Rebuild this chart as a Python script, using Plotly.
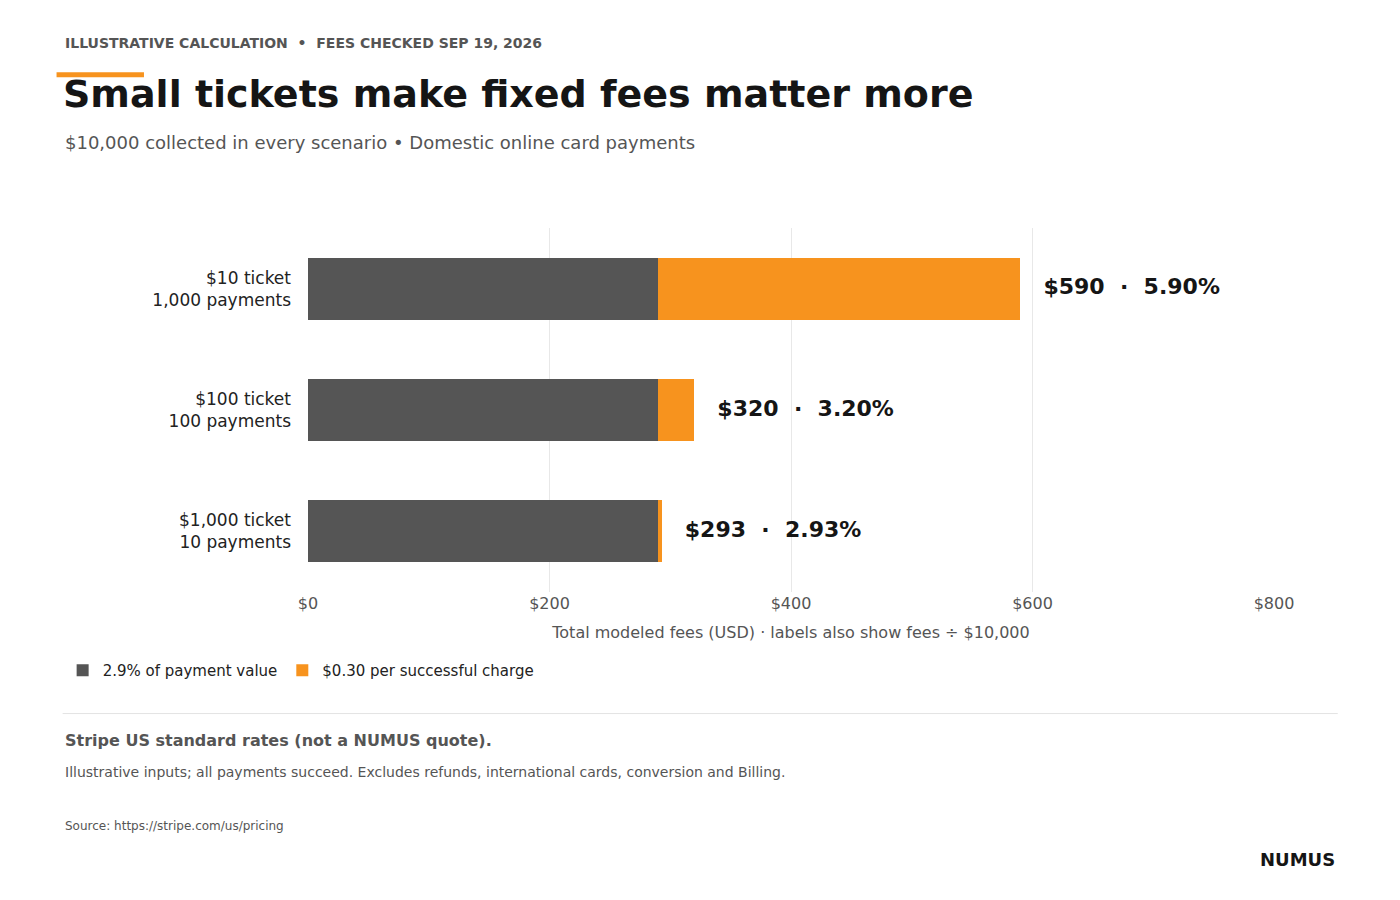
import plotly.graph_objects as go

categories = ["$10 ticket<br>1,000 payments", "$100 ticket<br>100 payments", "$1,000 ticket<br>10 payments"]
pct_fees = [290, 290, 290]
fixed_fees = [300, 30, 3]
totals = [590, 320, 293]
total_labels = ["   $590  ·  5.90%", "   $320  ·  3.20%", "   $293  ·  2.93%"]
tick_vals = [0, 200, 400, 600, 800]
tick_text = ["$0", "$200", "$400", "$600", "$800"]

GREY = "#555555"
ORANGE = "#F7931E"
FONT = "DejaVu Sans"

fig = go.Figure()
fig.add_trace(go.Bar(y=categories, x=pct_fees, orientation="h", name="2.9% of payment value",
                     marker_color=GREY, marker_line_width=0, hoverinfo="x"))
fig.add_trace(go.Bar(y=categories, x=fixed_fees, orientation="h", name="$0.30 per successful charge",
                     marker_color=ORANGE, marker_line_width=0, hoverinfo="x"))
fig.add_trace(go.Scatter(y=categories, x=totals, mode="text", text=total_labels,
                         textposition="middle right", showlegend=False, hoverinfo="skip",
                         textfont=dict(size=22, color="#151515", family=FONT, weight="bold")))

fig.update_layout(
    barmode="stack", bargap=0.49,
    width=1400, height=900,
    margin=dict(l=300, r=134, t=220, b=316),
    plot_bgcolor="white", paper_bgcolor="white",
    font=dict(family=FONT, color="#222"),
    legend=dict(orientation="h", x=-0.254, y=-0.17, xanchor="left", yanchor="top",
                font=dict(size=15, color="#222"), traceorder="normal"),
    xaxis=dict(range=[0, 800], tickvals=tick_vals, ticktext=tick_text,
               showgrid=True, gridcolor="#e8e8e8", zeroline=False,
               tickfont=dict(size=16, color="#555"),
               title=dict(text="Total modeled fees (USD) · labels also show fees ÷ $10,000",
                          font=dict(size=16, color="#555"), standoff=14)),
    yaxis=dict(autorange="reversed", tickfont=dict(size=17, color="#222"), ticklabelstandoff=16,
               showgrid=False),
)

fig.add_shape(type="line", xref="paper", yref="paper", x0=-0.2603, x1=-0.1698, y0=1.421, y1=1.421,
              line=dict(color=ORANGE, width=5))
fig.add_shape(type="line", xref="paper", yref="paper", x0=-0.254, x1=1.066, y0=-0.334, y1=-0.334,
              line=dict(color="#e3e3e3", width=1))

def note(text, x, y, size, color, bold=False, anchor="left"):
    fig.add_annotation(text=f"<b>{text}</b>" if bold else text, xref="paper", yref="paper",
                       x=x, y=y, xanchor=anchor, yanchor="middle", showarrow=False,
                       font=dict(size=size, color=color, family=FONT))

px_x = lambda p: (p - 308) / 966
px_y = lambda p: (592 - p) / 364

note("ILLUSTRATIVE CALCULATION  •  FEES CHECKED SEP 19, 2026", px_x(63), px_y(43), 14, "#555", bold=True)
note("Small tickets make fixed fees matter more", px_x(61), px_y(94), 38, "#151515", bold=True)
note("$10,000 collected in every scenario • Domestic online card payments", px_x(63), px_y(142), 18, "#555")
note("Stripe US standard rates (not a NUMUS quote).", px_x(63), px_y(740), 16, "#555", bold=True)
note("Illustrative inputs; all payments succeed. Excludes refunds, international cards, conversion and Billing.",
     px_x(63), px_y(772), 14, "#555")
note("Source: https://stripe.com/us/pricing", px_x(63), px_y(826), 12, "#555")
note("NUMUS", px_x(1337), px_y(859), 18, "#151515", bold=True, anchor="right")

fig.write_html("out.html")
